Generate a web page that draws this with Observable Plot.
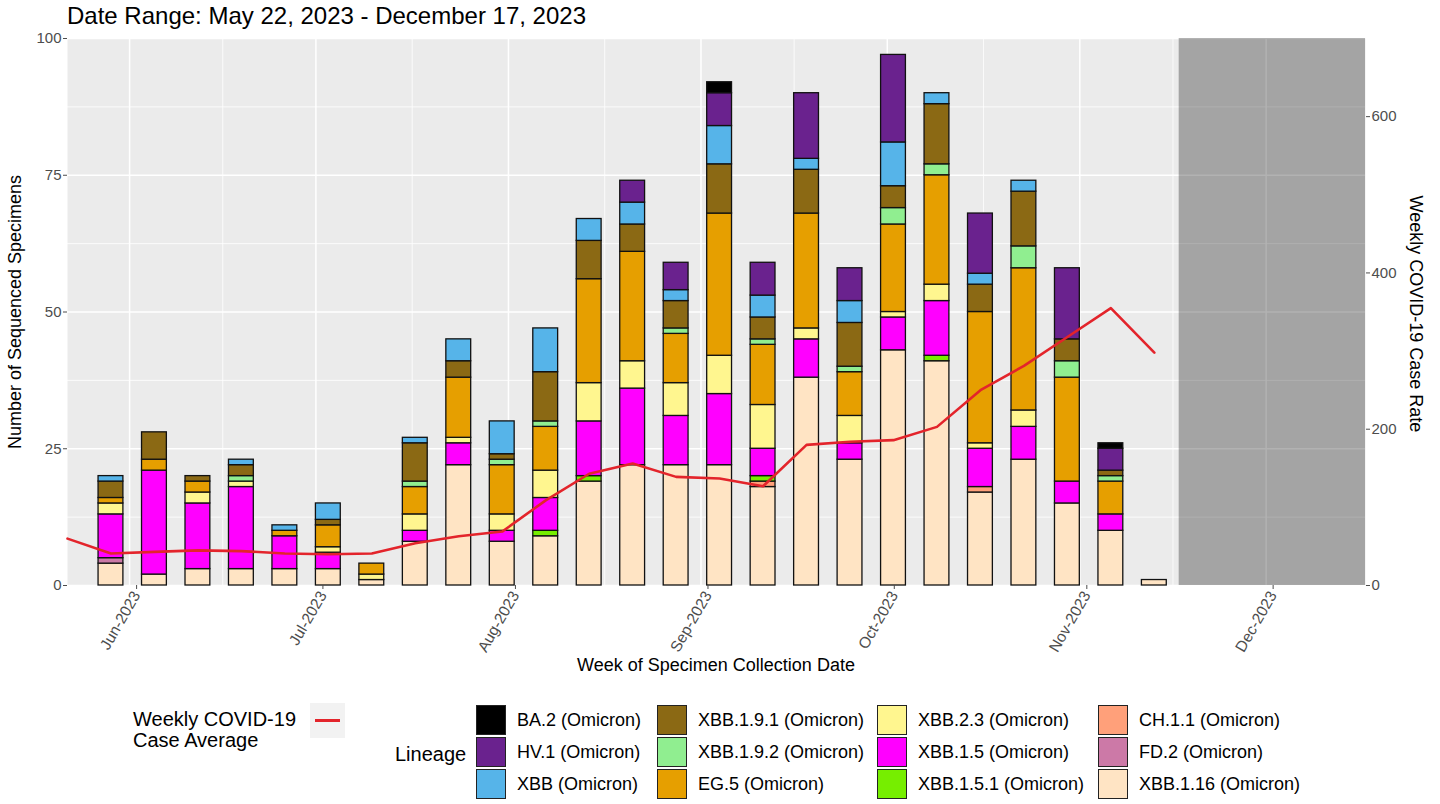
<!DOCTYPE html>
<html><head><meta charset="utf-8">
<script src="https://cdn.jsdelivr.net/npm/d3@7"></script>
<script src="https://cdn.jsdelivr.net/npm/@observablehq/plot@0.6"></script>
<style>
body{margin:0;background:#fff;}
#wrap{position:relative;width:1440px;height:804px;font-family:"Liberation Sans",Arial,sans-serif;color:#000;overflow:hidden;background:#fff}
.abs{position:absolute;white-space:nowrap}
.sw{position:absolute;width:28px;height:28px;border:1.5px solid #222;box-sizing:content-box}
.lt{position:absolute;font-size:18px;line-height:20px;white-space:nowrap}
.lh{position:absolute;font-size:20px;line-height:21px;white-space:nowrap}
</style></head><body>
<div id="wrap">
<div class="abs" style="left:67px;top:2px;font-size:24px">Date Range: May 22, 2023 - December 17, 2023</div>
<div class="abs" id="chart" style="left:0;top:28px"></div>
<div class="abs" style="left:15px;top:312px;font-size:18px;transform:translate(-50%,-50%) rotate(-90deg)">Number of Sequenced Specimens</div>
<div class="abs" style="left:1415px;top:314px;font-size:18px;transform:translate(-50%,-50%) rotate(90deg)">Weekly COVID-19 Case Rate</div>
<div class="abs" style="left:716px;top:665px;font-size:18px;transform:translate(-50%,-50%)">Week of Specimen Collection Date</div>
<div id="legend"></div>
</div>
<script>
// ---------- data ----------
const weeks = ["2023-05-29","2023-06-05","2023-06-12","2023-06-19","2023-06-26","2023-07-03","2023-07-10","2023-07-17","2023-07-24","2023-07-31","2023-08-07","2023-08-14","2023-08-21","2023-08-28","2023-09-04","2023-09-11","2023-09-18","2023-09-25","2023-10-02","2023-10-09","2023-10-16","2023-10-23","2023-10-30","2023-11-06","2023-11-13"];

const lineages = ["BA.2 (Omicron)","HV.1 (Omicron)","XBB (Omicron)","XBB.1.9.1 (Omicron)","XBB.1.9.2 (Omicron)","EG.5 (Omicron)","XBB.2.3 (Omicron)","XBB.1.5 (Omicron)","XBB.1.5.1 (Omicron)","CH.1.1 (Omicron)","FD.2 (Omicron)","XBB.1.16 (Omicron)"];
const lineageColors = ["#000000","#6A228E","#56B4E9","#8B6914","#90EE90","#E69F00","#FFF68F","#FF00FF","#76EE00","#FFA07A","#CC79A7","#FFE4C4"];

const countsBA2     = [0,0,0,0,0,0,0,0,0,0,0,0,0,0,2,0,0,0,0,0,0,0,0,1,0];
const countsHV1     = [0,0,0,0,0,0,0,0,0,0,0,0,4,5,6,6,12,6,16,0,11,0,13,4,0];
const countsXBB     = [1,0,0,1,1,3,0,1,4,6,8,4,4,2,7,4,2,4,8,2,2,2,0,0,0];
const countsXBB191  = [3,5,1,2,0,1,0,7,3,1,9,7,5,5,9,4,8,8,4,11,5,10,4,1,0];
const countsXBB192  = [0,0,0,1,0,0,0,1,0,1,1,0,0,1,0,1,0,1,3,2,0,4,3,1,0];
const countsEG5     = [1,2,2,0,1,4,2,5,11,9,8,19,20,9,26,11,21,8,16,20,24,26,19,6,0];
const countsXBB23   = [2,0,2,1,0,1,1,3,1,3,5,7,5,6,7,8,2,5,1,3,1,3,0,0,0];
const countsXBB15   = [8,19,12,15,6,3,0,2,4,2,6,10,14,9,13,5,7,3,6,10,7,6,4,3,0];
const countsXBB151  = [0,0,0,0,0,0,0,0,0,0,1,1,0,0,0,1,0,0,0,1,0,0,0,0,0];
const countsCH11    = [0,0,0,0,0,0,0,0,0,0,0,0,0,0,0,1,0,0,0,0,1,0,0,0,0];
const countsFD2     = [1,0,0,0,0,0,0,0,0,0,0,0,0,0,0,0,0,0,0,0,0,0,0,0,0];
const countsXBB116  = [4,2,3,3,3,3,1,8,22,8,9,19,22,22,22,18,38,23,43,41,17,23,15,10,1];
const lineageCounts = [countsBA2,countsHV1,countsXBB,countsXBB191,countsXBB192,countsEG5,countsXBB23,countsXBB15,countsXBB151,countsCH11,countsFD2,countsXBB116];

const lineDates = ["2023-05-22","2023-05-29","2023-06-05","2023-06-12","2023-06-19","2023-06-26","2023-07-03","2023-07-10","2023-07-17","2023-07-24","2023-07-31","2023-08-07","2023-08-14","2023-08-21","2023-08-28","2023-09-04","2023-09-11","2023-09-18","2023-09-25","2023-10-02","2023-10-09","2023-10-16","2023-10-23","2023-10-30","2023-11-06","2023-11-13"];
const caseRate = [60,41,43,45,44,41,40,41,54,63,69,109,143,156,139,137,127,180,184,186,203,250,281,318,355,298];

const xDomain = ["2023-05-22","2023-12-17"];
const monthTicks = ["2023-06-01","2023-07-01","2023-08-01","2023-09-01","2023-10-01","2023-11-01","2023-12-01"];
const countTicks = [0,25,50,75,100];
const countMinor = [12.5,37.5,62.5,87.5];
const rateTicks = [0,200,400,600];
const rateRatio = 7;
const shadeRange = ["2023-11-17","2023-12-17"];
const halfBarDays = 2;

// ---------- build tables ----------
const P = d3.utcParse("%Y-%m-%d");
const weekDates = weeks.map(P);
const bars = [];
// bottom to top
for (let li = lineages.length - 1; li >= 0; li--) {
  lineageCounts[li].forEach((c, wi) => {
    if (c > 0) bars.push({
      lineage: lineages[li],
      x1: d3.utcDay.offset(weekDates[wi], -halfBarDays),
      x2: d3.utcDay.offset(weekDates[wi], halfBarDays),
      count: c
    });
  });
}
const lineTable = lineDates.map((d, i) => ({date: P(d), rate: caseRate[i]}));
const majorX = monthTicks.map(P);
const minorX = d3.pairs(majorX).map(([a, b]) => new Date((+a + +b) / 2));
const shade = [{x1: P(shadeRange[0]), x2: P(shadeRange[1])}];

const chart = Plot.plot({
  width: 1440,
  height: 660,
  marginLeft: 67,
  marginRight: 75,
  marginTop: 10,
  marginBottom: 103,
  style: {fontFamily: "'Liberation Sans', Arial, sans-serif", fontSize: "15px", background: "transparent"},
  x: {type: "utc", domain: xDomain.map(P)},
  y: {domain: [0, 100]},
  color: {domain: lineages, range: lineageColors},
  marks: [
    Plot.frame({fill: "#EBEBEB", stroke: null}),
    Plot.ruleY(countMinor, {stroke: "#fff", strokeWidth: 0.8}),
    Plot.ruleX(minorX, {stroke: "#fff", strokeWidth: 0.8}),
    Plot.ruleY(countTicks, {stroke: "#fff", strokeWidth: 1.5}),
    Plot.ruleX(majorX, {stroke: "#fff", strokeWidth: 1.5}),
    Plot.rectY(bars, {x1: "x1", x2: "x2", y: "count", fill: "lineage", stroke: "#111", strokeWidth: 1.3}),
    Plot.line(lineTable, {x: "date", y: d => d.rate / rateRatio, stroke: "#E3242B", strokeWidth: 2.6}),
    Plot.rect(shade, {x1: "x1", x2: "x2", y1: 0, y2: 100, fill: "#000", fillOpacity: 0.3}),
    Plot.axisY(countTicks, {tickSize: 4, tickPadding: 2, color: "#4D4D4D", label: null}),
    Plot.axisY(rateTicks.map(v => v / rateRatio), {anchor: "right", tickSize: 4, tickPadding: 2, color: "#4D4D4D", tickFormat: d => String(Math.round(d * rateRatio)), label: null}),
    Plot.axisX(majorX, {tickSize: 4, tickPadding: 3, tickRotate: -60, color: "#4D4D4D", tickFormat: d3.utcFormat("%b-%Y"), label: null, fontSize: 15.5, dx: 7})
  ]
});
document.getElementById("chart").appendChild(chart);

// ---------- legend ----------
const leg = document.getElementById("legend");
function add(html) { leg.insertAdjacentHTML("beforeend", html); }
add(`<div class="lh" style="left:133px;top:709px">Weekly COVID-19<br>Case Average</div>`);
add(`<div class="abs" style="left:310px;top:703px;width:35px;height:35px;background:#F2F2F2"></div>`);
add(`<div class="abs" style="left:315px;top:719px;width:25px;height:2.6px;background:#E3242B"></div>`);
add(`<div class="lh" style="left:395px;top:744px">Lineage</div>`);
const colX = [476, 657, 877, 1098];
const rowY = [705, 737, 769];
lineages.forEach((name, i) => {
  const c = Math.floor(i / 3), r = i % 3;
  add(`<div class="sw" style="left:${colX[c]}px;top:${rowY[r]}px;background:${lineageColors[i]}"></div>`);
  add(`<div class="lt" style="left:${colX[c] + 41}px;top:${rowY[r] + 5}px">${name}</div>`);
});
</script>
</body></html>
